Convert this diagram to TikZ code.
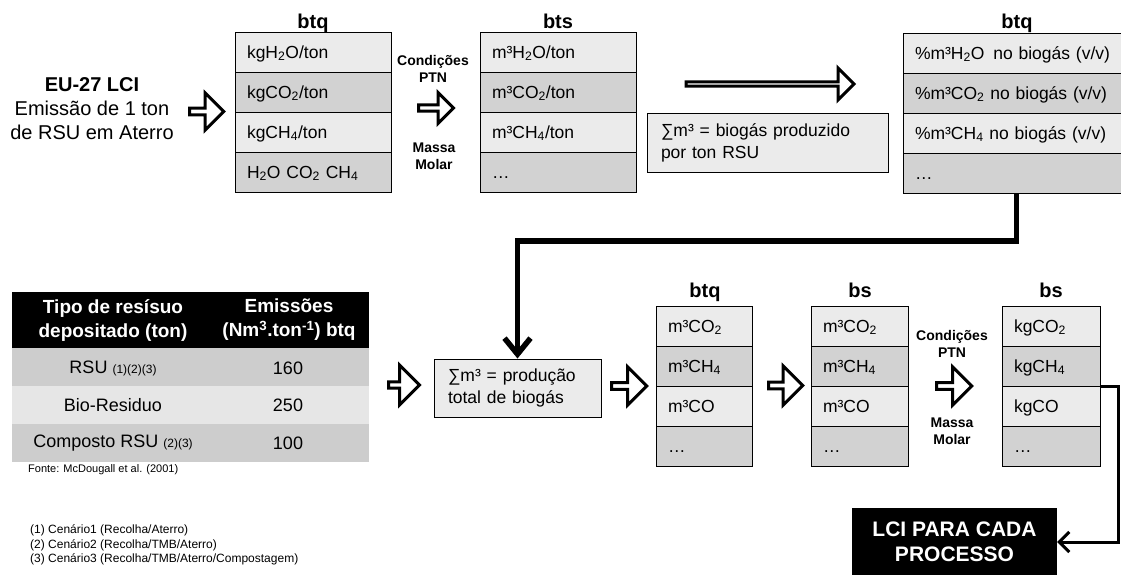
\documentclass[tikz,border=0pt]{standalone}
\usepackage{fontspec}
\setmainfont{Liberation Sans}
\usepackage{tikz}
\usetikzlibrary{positioning,shapes.arrows,arrows.meta}

\definecolor{rowlight}{HTML}{EBEBEB}
\definecolor{rowdark}{HTML}{D2D2D2}
\definecolor{tablight}{HTML}{E6E6E6}
\definecolor{tabdark}{HTML}{CDCDCD}

\newcommand{\fsz}[2]{\fontsize{#1}{#2}\selectfont}
\newcommand{\chsub}[1]{\textsubscript{#1}}
\newcommand{\chsup}[1]{\textsuperscript{#1}}

\begin{document}
\begin{tikzpicture}[x=1pt, y=-1pt,
    cell/.style={draw, line width=1pt, outer sep=0pt, minimum height=40pt, inner xsep=12pt, inner ysep=0pt,
                 text height=12pt, text depth=0pt, align=left, font=\fsz{17.5}{20}},
    light/.style={fill=rowlight},
    dark/.style={fill=rowdark},
    colhead/.style={anchor=base, font=\bfseries\fsz{20}{24}},
    note/.style={font=\bfseries\fsz{14}{17}, align=center},
    bigarrow/.style={single arrow, draw, fill=white, line width=3pt, inner sep=0pt, single arrow head extend=7pt},
    sumbox/.style={draw, line width=1pt, fill=rowlight, inner xsep=14pt, align=left, font=\fsz{17.5}{22}},
    tabrow/.style={minimum width=357pt, minimum height=38pt, inner sep=0pt},
    tabtitle/.style={text=white, font=\bfseries\fsz{19}{24}, align=center},
    tabtext/.style={font=\fsz{18}{22}},
    link/.style={line width=5.5pt, -{Straight Barb[length=16pt,width=26pt]}},
    thinlink/.style={line width=3pt, -{Straight Barb[length=10pt,width=20pt]}}]

    \clip (0,0) rectangle (1121,574);

    % origem dos dados
    \node[font=\fsz{20}{24}, align=center] (eu) at (92,109) {\textbf{EU-27 LCI}\\Emissão de 1 ton\\de RSU em Aterro};
    \node[bigarrow, minimum height=34pt, minimum width=37pt] (a1) at (205,111.5) {};

    % btq em kg
    \node[colhead] (t1) at (313,28) {btq};
    \node[cell, light, text width=132pt, anchor=north west] (kg1) at (235,32) {kgH\chsub{2}O/ton};
    \node[cell, dark, text width=132pt, below=0pt of kg1] (kg2) {kgCO\chsub{2}/ton};
    \node[cell, light, text width=132pt, below=0pt of kg2] (kg3) {kgCH\chsub{4}/ton};
    \node[cell, dark, text width=132pt, below=0pt of kg3] (kg4) {H\chsub{2}O CO\chsub{2} CH\chsub{4}};

    \node[note] (c1) at (433,68.5) {Condições\\PTN};
    \node[bigarrow, minimum height=35pt, minimum width=31pt, single arrow head extend=6pt] (a2) at (434.5,108) {};
    \node[note] (m1) at (434,156.5) {Massa\\Molar};

    % bts em m3
    \node[colhead] (t2) at (558,28) {bts};
    \node[cell, light, text width=132pt, anchor=north west] (mt1) at (480,32) {m³H\chsub{2}O/ton};
    \node[cell, dark, text width=132pt, below=0pt of mt1] (mt2) {m³CO\chsub{2}/ton};
    \node[cell, light, text width=132pt, below=0pt of mt2] (mt3) {m³CH\chsub{4}/ton};
    \node[cell, dark, text width=132pt, below=0pt of mt3] (mt4) {…};

    \node[bigarrow, minimum height=168pt, minimum width=32pt, single arrow head extend=10pt] (a3) at (769,84) {};
    \node[sumbox, minimum width=241pt, minimum height=59pt, text width=213pt] (bio) at (767.5,142.5) {∑m³ = biogás produzido\\por ton RSU};

    % btq em percentagem
    \node[colhead] (t3) at (1017,28) {btq};
    \node[cell, light, text width=203pt, anchor=north west] (pc1) at (903,33) {\%m³H\chsub{2}O\, no biogás (v/v)};
    \node[cell, dark, text width=203pt, below=0pt of pc1] (pc2) {\%m³CO\chsub{2} no biogás (v/v)};
    \node[cell, light, text width=203pt, below=0pt of pc2] (pc3) {\%m³CH\chsub{4} no biogás (v/v)};
    \node[cell, dark, text width=203pt, below=0pt of pc3] (pc4) {…};

    % tabela
    \node[tabrow, fill=black, minimum height=56pt] (thead) at (190.5,320) {};
    \node[tabrow, fill=tabdark] (row1) at (190.5,367) {};
    \node[tabrow, fill=tablight] (row2) at (190.5,405) {};
    \node[tabrow, fill=tabdark] (row3) at (190.5,443) {};
    \node[tabtitle] (h1) at (113,320) {Tipo de resísuo\\depositado (ton)};
    \node[tabtitle] (h2) at (289,320) {Emissões\\(Nm\chsup{3}.ton\chsup{-1}) btq};
    \node[tabtext] (r1a) at (113,368) {RSU {\fsz{12}{14}(1)(2)(3)}};
    \node[tabtext] (r1b) at (288,368) {160};
    \node[tabtext] (r2a) at (113,405) {Bio-Residuo};
    \node[tabtext] (r2b) at (288,405) {250};
    \node[tabtext] (r3a) at (113,443) {Composto RSU {\fsz{12}{14}(2)(3)}};
    \node[tabtext] (r3b) at (288,443) {100};
    \node[font=\fsz{11}{13}, anchor=west, inner sep=0pt] (src) at (28,470) {Fonte: McDougall et al. (2001)};
    \node[font=\fsz{12}{14.5}, align=left, anchor=west, inner sep=0pt] (notes) at (30,545)
        {(1) Cenário1 (Recolha/Aterro)\\(2) Cenário2 (Recolha/TMB/Aterro)\\(3) Cenário3 (Recolha/TMB/Aterro/Compostagem)};

    \node[bigarrow, minimum height=31pt, minimum width=40pt, single arrow head extend=8pt] (a4) at (402.5,385) {};
    \node[sumbox, minimum width=167pt, minimum height=58pt, text width=139pt] (prod) at (517.5,388) {∑m³ = produção\\total de biogás};
    \node[bigarrow, minimum height=35pt, minimum width=38pt] (a5) at (627.5,386) {};

    % btq em m3
    \node[colhead] (t4) at (705,297) {btq};
    \node[cell, light, text width=72pt, anchor=north west] (vq1) at (656,306) {m³CO\chsub{2}};
    \node[cell, dark, text width=72pt, below=0pt of vq1] (vq2) {m³CH\chsub{4}};
    \node[cell, light, text width=72pt, below=0pt of vq2] (vq3) {m³CO};
    \node[cell, dark, text width=72pt, below=0pt of vq3] (vq4) {…};

    \node[bigarrow, minimum height=34pt, minimum width=39pt] (a6) at (784,385.5) {};

    % bs em m3
    \node[colhead] (t5) at (860,297) {bs};
    \node[cell, light, text width=73pt, anchor=north west] (vs1) at (811,306) {m³CO\chsub{2}};
    \node[cell, dark, text width=73pt, below=0pt of vs1] (vs2) {m³CH\chsub{4}};
    \node[cell, light, text width=73pt, below=0pt of vs2] (vs3) {m³CO};
    \node[cell, dark, text width=73pt, below=0pt of vs3] (vs4) {…};

    \node[note] (c2) at (952,343.5) {Condições\\PTN};
    \node[bigarrow, minimum height=35pt, minimum width=38pt] (a7) at (952.5,386) {};
    \node[note] (m2) at (952,431.5) {Massa\\Molar};

    % bs em kg
    \node[colhead] (t6) at (1051,297) {bs};
    \node[cell, light, text width=74pt, anchor=north west] (kb1) at (1002,306) {kgCO\chsub{2}};
    \node[cell, dark, text width=74pt, below=0pt of kb1] (kb2) {kgCH\chsub{4}};
    \node[cell, light, text width=74pt, below=0pt of kb2] (kb3) {kgCO};
    \node[cell, dark, text width=74pt, below=0pt of kb3] (kb4) {…};

    \node[fill=black, text=white, font=\bfseries\fsz{21}{25}, align=center, minimum width=205pt, minimum height=68pt] (lci) at (954.5,542) {LCI PARA CADA\\PROCESSO};

    % ligacoes
    \draw[link] (pc4.south) -- ++(0,48) -| (prod.north);
    \draw[thinlink] (kb3.north east) -- ++(18,0) |- (lci.east);
\end{tikzpicture}
\end{document}
